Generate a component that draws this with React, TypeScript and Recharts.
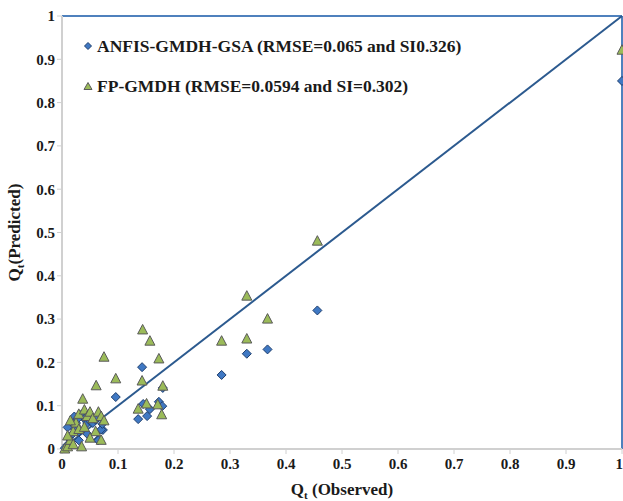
import React from 'react';
import {
  ScatterChart,
  Scatter,
  XAxis,
  YAxis,
  ReferenceLine,
} from 'recharts';

// observed / predicted pairs
const anfisObserved = [
  1.0, 0.456, 0.367, 0.33, 0.285, 0.143, 0.18, 0.145, 0.157, 0.173, 0.179, 0.136, 0.152, 0.096,
  0.073, 0.064, 0.059, 0.005, 0.01, 0.015, 0.02, 0.022, 0.025, 0.03, 0.035, 0.04, 0.045, 0.05,
  0.055, 0.06, 0.065, 0.07, 0.072, 0.01, 0.03, 0.012, 0.045, 0.028,
];
const anfisPredicted = [
  0.85, 0.32, 0.23, 0.22, 0.171, 0.189, 0.141, 0.104, 0.092, 0.109, 0.099, 0.069, 0.076, 0.12,
  0.044, 0.021, 0.067, 0.002, 0.01, 0.03, 0.05, 0.075, 0.06, 0.04, 0.08, 0.07, 0.06, 0.065,
  0.06, 0.068, 0.02, 0.045, 0.058, 0.05, 0.02, 0.025, 0.035, 0.07,
];

const fpObserved = [
  1.0, 0.456, 0.33, 0.367, 0.33, 0.285, 0.144, 0.157, 0.173, 0.143, 0.18, 0.136, 0.151, 0.171,
  0.178, 0.075, 0.061, 0.096, 0.037, 0.005, 0.01, 0.015, 0.02, 0.025, 0.03, 0.04, 0.045, 0.05,
  0.055, 0.06, 0.065, 0.07, 0.075, 0.035, 0.05, 0.015, 0.02, 0.03, 0.01, 0.07, 0.04,
];
const fpPredicted = [
  0.921, 0.48, 0.353, 0.3, 0.254, 0.249, 0.275, 0.249, 0.208, 0.157, 0.145, 0.092, 0.104, 0.102,
  0.079, 0.212, 0.146, 0.162, 0.115, 0.0, 0.005, 0.02, 0.04, 0.06, 0.08, 0.09, 0.075, 0.085,
  0.07, 0.04, 0.085, 0.075, 0.065, 0.005, 0.025, 0.065, 0.01, 0.045, 0.03, 0.02, 0.05,
];

const ticks = [0, 0.1, 0.2, 0.3, 0.4, 0.5, 0.6, 0.7, 0.8, 0.9, 1];

const anfisName = 'ANFIS-GMDH-GSA (RMSE=0.065 and SI0.326)';
const fpName = 'FP-GMDH (RMSE=0.0594 and SI=0.302)';

const anfisData = anfisObserved.map((x, i) => ({ x, y: anfisPredicted[i] }));
const fpData = fpObserved.map((x, i) => ({ x, y: fpPredicted[i] }));

const FONT = '"Liberation Serif", "Times New Roman", serif';

const fmt = (v: number) => (v === 0 || v === 1 ? String(v) : v.toFixed(1));

const Diamond = (props: any) => {
  const { cx, cy } = props;
  const r = 4.5;
  return (
    <polygon
      points={`${cx},${cy - r} ${cx + r},${cy} ${cx},${cy + r} ${cx - r},${cy}`}
      fill="#3f78c3"
      stroke="#1f3f6e"
      strokeWidth={1}
    />
  );
};

const Triangle = (props: any) => {
  const { cx, cy } = props;
  return (
    <polygon
      points={`${cx},${cy - 5.5} ${cx + 5},${cy + 4} ${cx - 5},${cy + 4}`}
      fill="#9bbb59"
      stroke="#5a5a5a"
      strokeWidth={1}
    />
  );
};

const XTitle = (props: any) => {
  const { viewBox } = props;
  const cx = viewBox.x + viewBox.width / 2;
  return (
    <text x={cx} y={viewBox.y + 46} textAnchor="middle" fontFamily={FONT} fontWeight="bold" fontSize={17} fill="#1a1a1a">
      Q<tspan fontSize={11} dy={4}>t</tspan>
      <tspan dy={-4}> (Observed)</tspan>
    </text>
  );
};

const YTitle = (props: any) => {
  const { viewBox } = props;
  const cy = viewBox.y + viewBox.height / 2;
  return (
    <text
      x={0}
      y={0}
      transform={`translate(20, ${cy}) rotate(-90)`}
      textAnchor="middle"
      fontFamily={FONT}
      fontWeight="bold"
      fontSize={17}
      fill="#1a1a1a"
    >
      Q<tspan fontSize={11} dy={4}>t</tspan>
      <tspan dy={-4}>(Predicted)</tspan>
    </text>
  );
};

const LegendBox = () => (
  <div
    style={{
      position: 'absolute',
      left: 83,
      top: 36,
      fontFamily: FONT,
      fontWeight: 'bold',
      fontSize: 17.5,
      color: '#1a1a1a',
      whiteSpace: 'nowrap',
    }}
  >
    <div style={{ display: 'flex', alignItems: 'center', height: 20 }}>
      <svg width={10} height={10} style={{ marginRight: 4 }}>
        <polygon points="5,1.5 8.5,5 5,8.5 1.5,5" fill="#3f78c3" stroke="#1f3f6e" strokeWidth={1} />
      </svg>
      {anfisName}
    </div>
    <div style={{ display: 'flex', alignItems: 'center', height: 20, marginTop: 20 }}>
      <svg width={10} height={10} style={{ marginRight: 4 }}>
        <polygon points="5,1.5 9,8.5 1,8.5" fill="#9bbb59" stroke="#5a5a5a" strokeWidth={1} />
      </svg>
      {fpName}
    </div>
  </div>
);

const App = () => {
  return (
    <div style={{ position: 'absolute', left: 0, top: 0, width: 623, height: 501, background: '#fff' }}>
      <ScatterChart width={623} height={501} margin={{ top: 16, right: 1, left: 0, bottom: 0 }}>
        <XAxis
          type="number"
          dataKey="x"
          domain={[0, 1]}
          ticks={ticks}
          tickFormatter={fmt}
          axisLine={{ stroke: '#d0d0d0', strokeWidth: 2 }}
          tickLine={{ stroke: '#d0d0d0' }}
          tickSize={5}
          height={52}
          tick={{ fontFamily: FONT, fontWeight: 'bold', fontSize: 15, fill: '#1a1a1a', dy: 2 }}
          label={<XTitle />}
        />
        <YAxis
          type="number"
          dataKey="y"
          domain={[0, 1]}
          ticks={ticks}
          tickFormatter={fmt}
          axisLine={{ stroke: '#d0d0d0', strokeWidth: 2 }}
          tickLine={{ stroke: '#d0d0d0' }}
          tickSize={5}
          width={62}
          tick={{ fontFamily: FONT, fontWeight: 'bold', fontSize: 15, fill: '#1a1a1a' }}
          label={<YTitle />}
        />
        <ReferenceLine y={1} stroke="#4f81bd" strokeWidth={2} />
        <ReferenceLine x={1} stroke="#4f81bd" strokeWidth={2} />
        <Scatter
          name={anfisName}
          data={anfisData}
          shape={<Diamond />}
          isAnimationActive={false}
        />
        <Scatter
          name={fpName}
          data={fpData}
          shape={<Triangle />}
          isAnimationActive={false}
        />
        <ReferenceLine
          segment={[
            { x: 0, y: 0 },
            { x: 1, y: 1 },
          ]}
          stroke="#2c5a8f"
          strokeWidth={2}
        />
      </ScatterChart>
      <LegendBox />
    </div>
  );
};

export default App;
